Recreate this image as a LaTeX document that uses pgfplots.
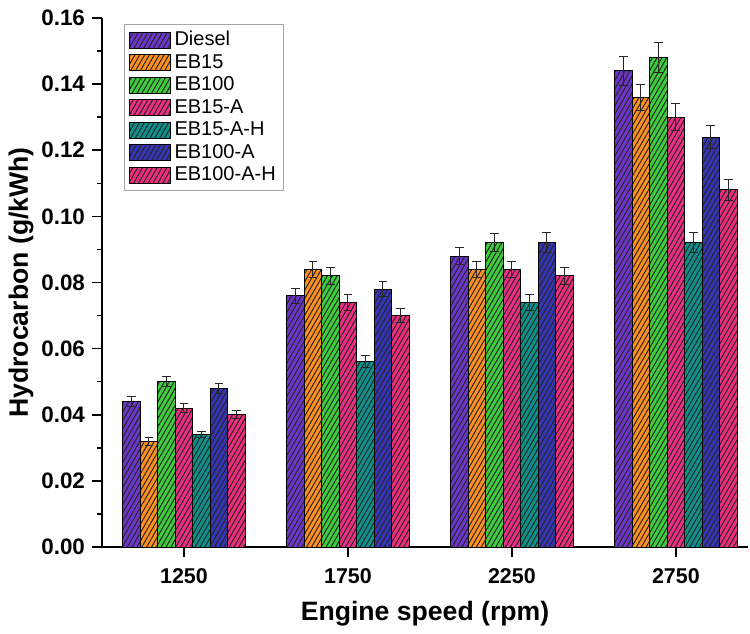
\documentclass[border=0pt]{standalone}
\usepackage{pgfplots}
\pgfplotsset{compat=1.18}
\usepackage{fontspec}
\setmainfont{Liberation Sans}
\usetikzlibrary{patterns.meta}

\definecolor{cDiesel}{HTML}{6B36C9}
\definecolor{cEBf}{HTML}{FF8F1F}
\definecolor{cEBh}{HTML}{3DCC3D}
\definecolor{cEBfA}{HTML}{EE2D85}
\definecolor{cEBfAH}{HTML}{0F8F8A}
\definecolor{cEBhA}{HTML}{3535B5}
\definecolor{cEBhAH}{HTML}{F02D7D}

\pgfplotsset{
  hatched/.style={draw=black, line width=0.5pt, fill=#1,
    postaction={pattern={Lines[angle=60,distance=2.1pt,line width=0.5pt]}, pattern color=black!85}},
}

\begin{document}
\begin{tikzpicture}
\begin{axis}[
  at={(0,0)}, anchor=south west,
  scale only axis,
  width=323pt, height=264.5pt,
  ybar=0pt, bar width=8.75pt,
  xmin=-0.5, xmax=3.44,
  ymin=0, ymax=0.16,
  axis x line=bottom, axis y line=left,
  axis line style={-, line width=1pt},
  tick align=outside,
  major tick length=5pt, minor tick length=2.5pt,
  every tick/.style={black, line width=0.8pt},
  xtick={0,1,2,3}, xticklabels={1250,1750,2250,2750},
  x tick label style={font=\fontsize{10.7}{12}\bfseries, yshift=-2pt},
  ytick={0,0.02,...,0.16},
  minor y tick num=1,
  y tick label style={font=\fontsize{11.2}{12}\bfseries, /pgf/number format/.cd, fixed, fixed zerofill, precision=2},
  /pgf/number format/assume math mode=true,
  scaled y ticks=false,
  xlabel={Engine speed (rpm)},
  ylabel={Hydrocarbon (g/kWh)},
  label style={font=\fontsize{13.3}{15}\bfseries},
  xlabel style={yshift=-2pt},
  ylabel style={yshift=-3pt},
  error bars/y dir=both, error bars/y explicit,
  error bars/error bar style={line width=0.5pt, black!85, solid},
  error bars/error mark options={rotate=90, mark size=2.2pt, line width=0.5pt, black!85},
  legend style={at={(0.034,0.989)}, anchor=north west, draw=gray!70, line width=0.6pt,
    font=\fontsize{10}{11}\selectfont, row sep=-1.2pt, inner xsep=2pt, inner ysep=1.5pt,
    cells={anchor=west}},
  legend image code/.code={\draw[#1] (0pt,-4pt) rectangle (20.5pt,4pt);},
]
\addplot[hatched=cDiesel] coordinates {(0,0.044) +- (0,0.0015) (1,0.076) +- (0,0.0022) (2,0.088) +- (0,0.0027) (3,0.144) +- (0,0.0045)};
\addplot[hatched=cEBf] coordinates {(0,0.032) +- (0,0.0012) (1,0.084) +- (0,0.0025) (2,0.084) +- (0,0.0025) (3,0.136) +- (0,0.0040)};
\addplot[hatched=cEBh] coordinates {(0,0.050) +- (0,0.0015) (1,0.082) +- (0,0.0025) (2,0.092) +- (0,0.0027) (3,0.148) +- (0,0.0045)};
\addplot[hatched=cEBfA] coordinates {(0,0.042) +- (0,0.0013) (1,0.074) +- (0,0.0025) (2,0.084) +- (0,0.0025) (3,0.130) +- (0,0.0040)};
\addplot[hatched=cEBfAH] coordinates {(0,0.034) +- (0,0.0010) (1,0.056) +- (0,0.0018) (2,0.074) +- (0,0.0024) (3,0.092) +- (0,0.0030)};
\addplot[hatched=cEBhA] coordinates {(0,0.048) +- (0,0.0015) (1,0.078) +- (0,0.0023) (2,0.092) +- (0,0.0030) (3,0.124) +- (0,0.0036)};
\addplot[hatched=cEBhAH] coordinates {(0,0.040) +- (0,0.0012) (1,0.070) +- (0,0.0020) (2,0.082) +- (0,0.0025) (3,0.108) +- (0,0.0033)};
\legend{Diesel,EB15,EB100,EB15-A,EB15-A-H,EB100-A,EB100-A-H}
\end{axis}
\pgfresetboundingbox
\path[use as bounding box] (-51pt,-43pt) rectangle (324pt,273.5pt);
\end{tikzpicture}
\end{document}
